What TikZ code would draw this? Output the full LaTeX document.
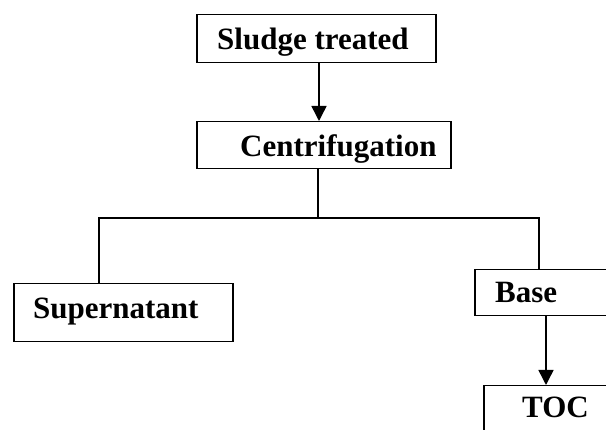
\documentclass[tikz,border=0pt]{standalone}
\usepackage{fontspec}
\setmainfont{Liberation Serif}
\usetikzlibrary{arrows.meta}
\begin{document}
\begin{tikzpicture}[x=1pt,y=-1pt,
  box/.style={draw,line width=1.5pt,rectangle,inner sep=0pt,anchor=north west},
  lbl/.style={anchor=base west,inner sep=0pt,font=\fontsize{31}{36}\selectfont\bfseries},
  conn/.style={line width=1.5pt},
  arr/.style={line width=1.5pt,-{Triangle[length=15pt,width=15pt]}}]
\useasboundingbox (0,0) rectangle (606,430);
\clip (0,0) rectangle (606,430);
\node[box,minimum width=239pt,minimum height=48pt] (sl) at (196,14) {};
\node[box,minimum width=254pt,minimum height=47pt] (ce) at (196,121) {};
\node[box,minimum width=219pt,minimum height=58pt] (su) at (13,283) {};
\node[box,minimum width=170pt,minimum height=46pt] (ba) at (474,269) {};
\node[box,minimum width=170pt,minimum height=70pt] (to) at (483,385) {};
\node[lbl] (tsl) at (217,50) {Sludge treated};
\node[lbl] (tce) at (240,157) {Centrifugation};
\node[lbl] (tsu) at (33,319) {Supernatant};
\node[lbl] (tba) at (495,303) {Base};
\node[lbl] (tto) at (522,418) {TOC};
\coordinate (a1) at (319,0);
\coordinate (j) at (318,218);
\coordinate (jl) at (99,218);
\coordinate (jr) at (539,218);
\coordinate (a2) at (546,0);
\draw[arr] (sl.south -| a1) -- (ce.north -| a1);
\draw[conn] (ce.south -| j) -- (j);
\draw[conn] (su.north -| jl) -- (jl) -- (jr) -- (ba.north -| jr);
\draw[arr] (ba.south -| a2) -- (to.north -| a2);
\end{tikzpicture}
\end{document}
